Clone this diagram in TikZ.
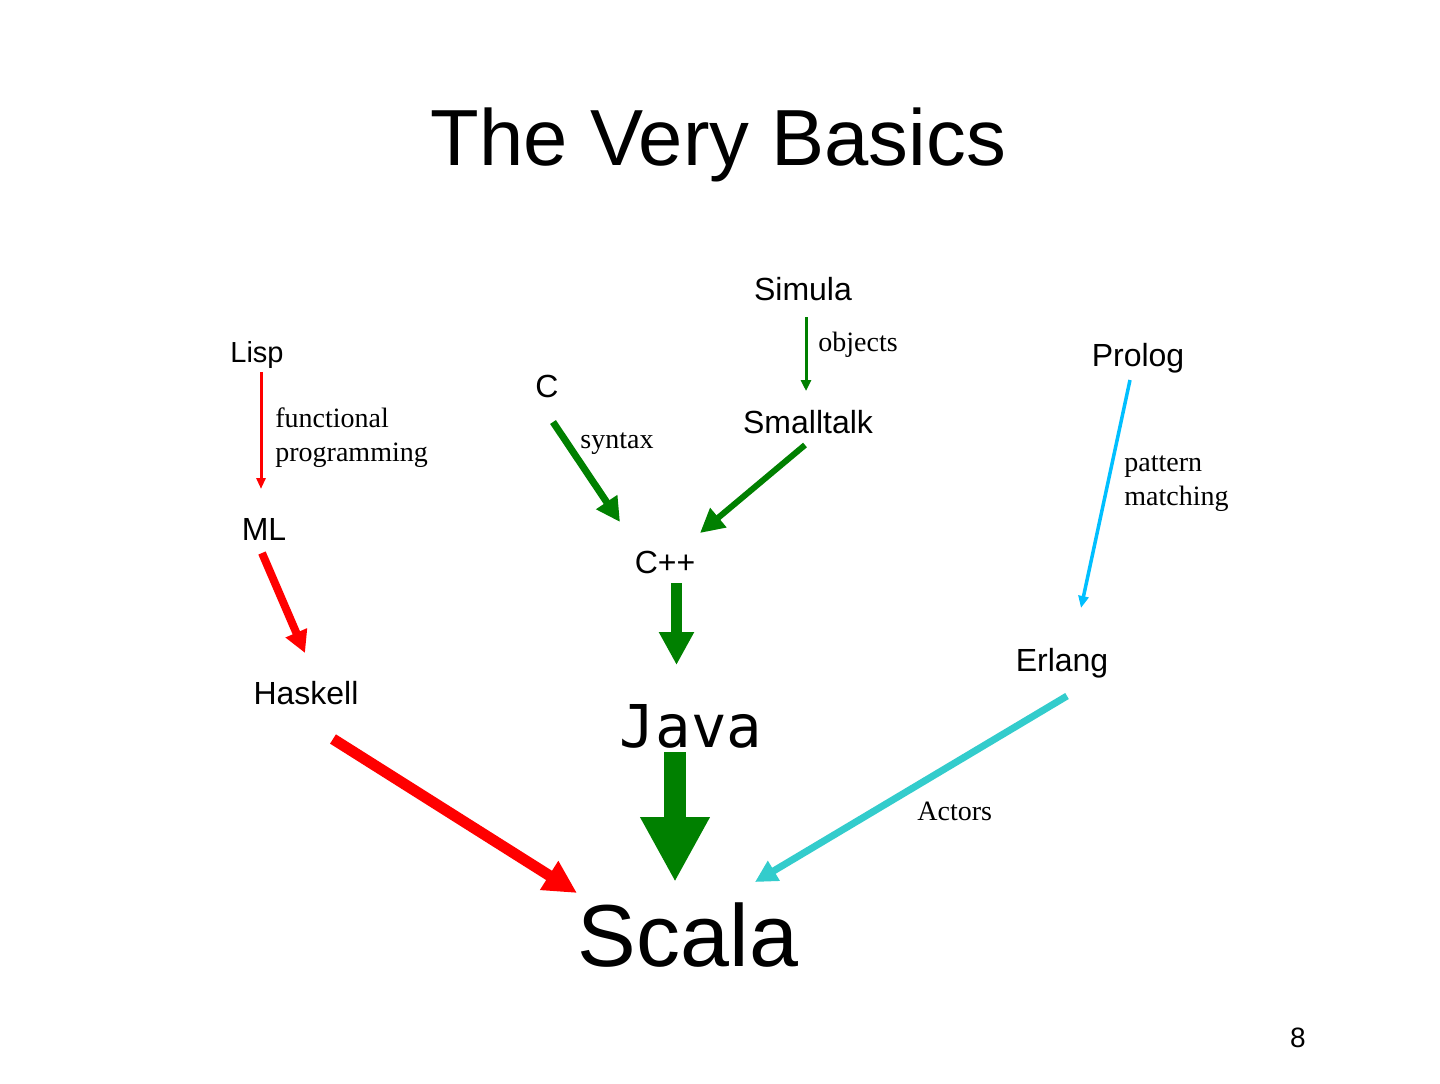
\documentclass[tikz,border=0pt]{standalone}
\usepackage{fontspec}
\setmainfont{Liberation Serif}
\setsansfont{Liberation Sans}
\setmonofont{DejaVu Sans Mono}
\usetikzlibrary{arrows.meta,calc}
\definecolor{dgreen}{RGB}{0,128,0}
\definecolor{pred}{RGB}{255,0,0}
\definecolor{skyb}{RGB}{0,191,255}
\definecolor{cyanb}{RGB}{51,204,204}
\tikzset{
  lang/.style={anchor=base,inner sep=0pt,font=\sffamily\fontsize{16}{19}\selectfont},
  lbl/.style={anchor=base west,inner sep=0pt,align=left,font=\rmfamily\fontsize{14}{17}\selectfont},
  thinarr/.style={line width=1.5pt,-{Triangle[length=5.5pt,width=5pt]}},
}
\begin{document}
\begin{tikzpicture}[x=0.5pt,y=-0.5pt]
\useasboundingbox (0,0) rectangle (1440,1083);
% title
\node[anchor=base,inner sep=0pt,font=\sffamily\fontsize{39.8}{46}\selectfont] (title) at (718.5,165) {The Very Basics};
% languages
\node[lang] (simula) at (803,300) {Simula};
\node[lang,font=\sffamily\fontsize{14.5}{17}\selectfont] (lisp) at (257,362) {Lisp};
\node[lang] (prolog) at (1138,366) {Prolog};
\node[lang] (c) at (547,397) {C};
\node[lang] (smalltalk) at (808,433) {Smalltalk};
\node[lang] (ml) at (264,540) {ML};
\node[lang] (cpp) at (665,573) {C++};
\node[lang] (erlang) at (1062,671) {Erlang};
\node[lang] (haskell) at (306,704) {Haskell};
\node[anchor=base,inner sep=0pt,font=\ttfamily\fontsize{29.5}{34}\selectfont] (java) at (691,747) {Java};
\node[anchor=base,inner sep=0pt,font=\sffamily\fontsize{44}{52}\selectfont] (scala) at (688,966) {Scala};
\node[anchor=base,inner sep=0pt,font=\sffamily\fontsize{14}{16}\selectfont] (page) at (1298,1047) {8};
% labels
\node[lbl] (objects) at (818,351) {objects};
\node[lbl] (fp) at (275,461) {functional\\programming};
\node[lbl] (syntax) at (580,448) {syntax};
\node[lbl] (pm) at (1124,505) {pattern\\matching};
\node[lbl] (actors) at (917,820) {Actors};
% connectors
\draw[thinarr,dgreen] ($(simula.base)+(3,17)$) -- ($(smalltalk.base)+(-2,-42)$);
\draw[line width=1.5pt,pred,-{Triangle[length=5.5pt,width=4.5pt]}] ($(lisp.base)+(4,10)$) -- ($(ml.base)+(-3,-51)$);
\draw[line width=3.5pt,dgreen,-{Triangle[length=12pt,width=12pt]}] ($(c.base)+(6,25)$) -- ($(cpp.base)+(-45,-51)$);
\draw[line width=3pt,dgreen,-{Triangle[length=12pt,width=12pt]}] ($(smalltalk.base)+(-3,12)$) -- ($(cpp.base)+(35,-40)$);
\draw[line width=1.75pt,skyb,-{Triangle[length=6pt,width=5pt]}] ($(prolog.base)+(-8,14)$) -- ($(erlang.base)+(19,-63)$);
\draw[line width=4pt,pred,-{Triangle[length=11pt,width=11pt]}] ($(ml.base)+(-2,13)$) -- ($(haskell.base)+(-1,-51)$);
\draw[line width=5.5pt,pred,-{Triangle[length=16.5pt,width=16pt]}] ($(haskell.base)+(27,35)$) -- ($(scala.base)+(-111,-73)$);
\draw[line width=3.5pt,cyanb,-{Triangle[length=11pt,width=11pt]}] ($(erlang.base)+(5,25)$) -- ($(scala.base)+(67,-84)$);
\draw[line width=5.5pt,dgreen,-{Triangle[length=16.5pt,width=16.5pt]}] ($(cpp.base)+(11.5,10)$) -- ($(java.base)+(-14.5,-82)$);
\draw[line width=11pt,dgreen,-{Triangle[length=32.5pt,width=32.5pt]}] ($(java.base)+(-16,5)$) -- ($(scala.base)+(-13,-84)$);
\end{tikzpicture}
\end{document}
